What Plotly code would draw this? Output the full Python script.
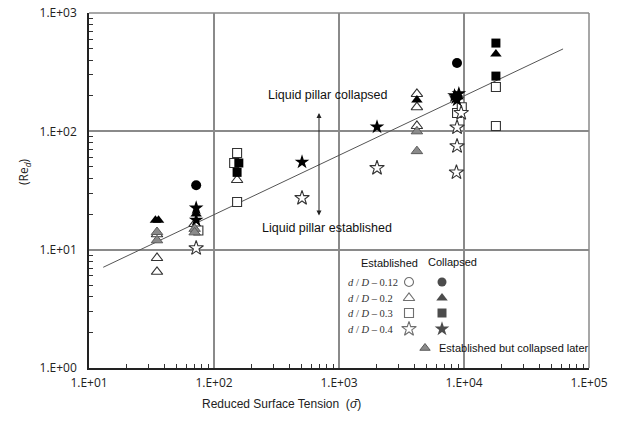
import plotly.graph_objects as go

# ---------------- data ----------------
# d/D = 0.12 (circles)
c12_col_x = [72, 8790]
c12_col_y = [35, 378]

# d/D = 0.2 (triangles)
c20_est_x = [35, 35, 35, 70, 153, 4200, 4200, 4200]
c20_est_y = [13.5, 8.5, 6.5, 16.5, 38.8, 207, 160, 111]
c20_col_x = [34, 36, 72, 4200, 8600, 18000]
c20_col_y = [17.7, 17.7, 20, 184, 200, 450]

# established but collapsed later (grey triangles)
late_x = [35, 35, 70, 70, 4200, 4200]
late_y = [14.1, 12.0, 15.0, 14.0, 100, 68]

# d/D = 0.3 (squares)
c30_est_x = [153, 145, 153, 75, 8800, 9600, 18000, 18000]
c30_est_y = [65.6, 54, 25.3, 14.5, 143, 160, 237, 111]
c30_col_x = [158, 153, 18000, 18000]
c30_col_y = [54, 45, 557, 293]

# d/D = 0.4 (stars)
c40_est_x = [72, 506, 2014, 9500, 8800, 8800, 8700]
c40_est_y = [10.3, 27.3, 49, 143, 108, 75, 45]
c40_col_x = [72, 72, 506, 2014, 8400, 9100, 8800, 8600]
c40_col_y = [22.5, 17.8, 55, 109, 200, 208, 184, 192]

# correlation line
fit_x = [13, 62000]
fit_y = [7.1, 497]

x_tickvals = [10, 100, 1000, 10000, 100000]
x_ticktext = ["1.E+01", "1.E+02", "1.E+03", "1.E+04", "1.E+05"]
y_tickvals = [1, 10, 100, 1000]
y_ticktext = ["1.E+00", "1.E+01", "1.E+02", "1.E+03"]

legend_rows = ["<i>d</i> / <i>D</i> – 0.12", "<i>d</i> / <i>D</i> – 0.2",
               "<i>d</i> / <i>D</i> – 0.3", "<i>d</i> / <i>D</i> – 0.4"]
legend_symbols = ["circle", "triangle-up", "square", "star"]

# ---------------- figure ----------------
W, H = 622, 421
L, R, T, B = 89, 589, 13, 368   # plot area in page pixels


def fx(px):
    return (px - L) / (R - L)


def fy(py):
    return (B - py) / (B - T)


OPEN_LINE = dict(color="#333333", width=1.1)
fig = go.Figure()

fig.add_trace(go.Scatter(x=fit_x, y=fit_y, mode="lines",
                         line=dict(color="#555555", width=1), hoverinfo="skip"))


def add_pts(x, y, symbol, size, fill, line):
    fig.add_trace(go.Scatter(x=x, y=y, mode="markers",
                             marker=dict(symbol=symbol, size=size, color=fill, line=line)))


# open (established)
add_pts(c20_est_x, c20_est_y, "triangle-up", 10, "white", OPEN_LINE)
add_pts(c30_est_x, c30_est_y, "square", 9, "white", OPEN_LINE)
add_pts(c40_est_x, c40_est_y, "star", 11, "white", OPEN_LINE)
# grey (established but collapsed later)
add_pts(late_x, late_y, "triangle-up", 10, "#8a8a8a", dict(color="#5a5a5a", width=1))
# filled (collapsed)
add_pts(c12_col_x, c12_col_y, "circle", 10, "black", dict(color="black", width=0))
add_pts(c20_col_x, c20_col_y, "triangle-up", 10, "black", dict(color="black", width=0))
add_pts(c30_col_x, c30_col_y, "square", 9, "black", dict(color="black", width=0))
add_pts(c40_col_x, c40_col_y, "star", 11, "black", dict(color="black", width=0))

# legend glyphs on an overlay axis (0..1 over the plot area)
row_py = [282, 298, 313, 329]
sizes = [9, 10, 9, 11]
fig.add_trace(go.Scatter(x=[fx(409)] * 4, y=[fy(p) for p in row_py], mode="markers",
                         xaxis="x2", yaxis="y2",
                         marker=dict(symbol=legend_symbols, size=sizes, color="white", line=OPEN_LINE)))
fig.add_trace(go.Scatter(x=[fx(442)] * 4, y=[fy(p) for p in row_py], mode="markers",
                         xaxis="x2", yaxis="y2",
                         marker=dict(symbol=legend_symbols, size=sizes, color="black", line=dict(width=0))))
fig.add_trace(go.Scatter(x=[fx(425)], y=[fy(348)], mode="markers", xaxis="x2", yaxis="y2",
                         marker=dict(symbol="triangle-up", size=9, color="#8a8a8a",
                                     line=dict(color="#5a5a5a", width=1))))

ann = []


def text(px, py, s, font, xanchor="center", **kw):
    ann.append(dict(x=fx(px), y=fy(py), xref="paper", yref="paper", text=s, showarrow=False,
                    xanchor=xanchor, yanchor="middle", font=font, **kw))


txtfont = dict(family="Liberation Sans, Arial", size=12.5, color="#111111")
text(328, 95, "Liquid pillar collapsed", txtfont)
text(327, 228, "Liquid pillar established", txtfont)
# double-headed arrow
ann.append(dict(x=fx(319), y=fy(113), ax=fx(319), ay=fy(217), xref="x2", yref="y2",
                axref="x2", ayref="y2", text="", showarrow=True, arrowhead=2, arrowsize=1,
                arrowwidth=1, arrowcolor="#222222", arrowside="end+start"))
# legend texts
legfont = dict(family="Liberation Sans, Arial", size=11, color="#111111")
text(389, 263, "Established", legfont)
text(452, 262, "Collapsed", legfont)
for lab, p in zip(legend_rows, row_py):
    text(346, p, lab, dict(family="Liberation Serif, Times New Roman", size=10.5, color="#333333"),
         xanchor="left")
text(437, 348, "Established but collapsed later", legfont, xanchor="left")
# axis titles
text(281, 404, "Reduced Surface Tension  (<i>σ̄</i>)",
     dict(family="Liberation Sans, Arial", size=12, color="#222222"))
text(24, 172, "(Re<sub><i>d</i></sub>)",
     dict(family="Open Sans, Liberation Sans", size=12, color="#222222"), textangle=-90)

x_minor = [m * 10 ** k for k in range(1, 5) for m in range(2, 10)]
y_minor = [m * 10 ** k for k in range(0, 3) for m in range(2, 10)]
tickfont = dict(family="Open Sans, Liberation Sans", size=12, color="#222222")

fig.update_layout(
    width=W, height=H, showlegend=False,
    plot_bgcolor="white", paper_bgcolor="white",
    margin=dict(l=L, r=W - R, t=T, b=H - B, autoexpand=False),
    xaxis=dict(type="log", range=[1, 5], tickvals=x_tickvals, ticktext=x_ticktext,
               showgrid=True, gridcolor="#8a8a8a", gridwidth=1.5, zeroline=False,
               showline=True, linecolor="#222222", linewidth=1.5,
               ticks="inside", ticklen=5, tickcolor="#8a8a8a", automargin=False,
               ticklabelstandoff=3, tickfont=tickfont, ticklabeloverflow="allow",
               minor=dict(tickmode="array", tickvals=x_minor, ticks="inside", ticklen=4,
                          tickcolor="#333333", showgrid=False)),
    yaxis=dict(type="log", range=[0, 3], tickvals=y_tickvals, ticktext=y_ticktext,
               showgrid=True, gridcolor="#8a8a8a", gridwidth=1.5, zeroline=False,
               showline=True, linecolor="#222222", linewidth=1.5,
               ticks="inside", ticklen=5, tickcolor="#8a8a8a", automargin=False,
               ticklabelstandoff=8, tickfont=tickfont, ticklabeloverflow="allow",
               minor=dict(tickmode="array", tickvals=y_minor, ticks="inside", ticklen=4,
                          tickcolor="#333333", showgrid=False)),
    xaxis2=dict(overlaying="x", range=[0, 1], visible=False, fixedrange=True, automargin=False),
    yaxis2=dict(overlaying="y", range=[0, 1], visible=False, fixedrange=True, automargin=False),
    annotations=ann,
    shapes=[
        dict(type="line", xref="paper", yref="paper", x0=0, x1=1, y0=1, y1=1,
             line=dict(color="#8a8a8a", width=1.5)),
        dict(type="line", xref="paper", yref="paper", x0=1, x1=1, y0=0, y1=1,
             line=dict(color="#8a8a8a", width=1.5)),
    ],
)

fig.write_html("out.html", config={"displayModeBar": False},
               post_script="document.body.style.margin='0';")
